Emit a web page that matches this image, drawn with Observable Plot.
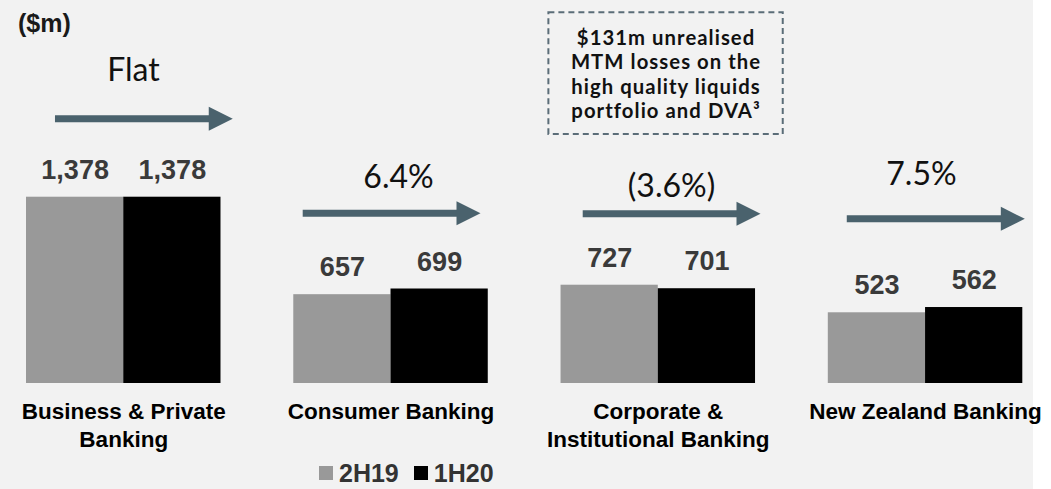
<!DOCTYPE html>
<html>
<head>
<meta charset="utf-8">
<script src="https://cdn.jsdelivr.net/npm/d3@7"></script>
<script src="https://cdn.jsdelivr.net/npm/@observablehq/plot@0.6"></script>
<style>
  html, body { margin: 0; padding: 0; }
  body { width: 1051px; height: 489px; overflow: hidden;
         background: linear-gradient(to right, #f2f2f2 1033px, #ffffff 1033px); }
  #chart svg { display: block; }
  .leg-swatch > svg { margin-right: 6px !important; }
  .leg-swatch { margin-right: 15px !important; }
  .leg-swatches-wrap { min-height: 30px !important; }
  g[aria-description="note"] text { letter-spacing: 1.05px; }
</style>
</head>
<body>
<div id="chart"></div>
<script>
// ---- data ----
const groups = ["Business & Private\nBanking", "Consumer Banking", "Corporate &\nInstitutional Banking", "New Zealand Banking"];
const series = ["2H19", "1H20"];
const values2H19 = [1378, 657, 727, 523];
const values1H20 = [1378, 699, 701, 562];
const changes = ["Flat", "6.4%", "(3.6%)", "7.5%"];
const unitLabel = "($m)";
const noteText = "$131m unrealised\nMTM losses on the\nhigh quality liquids\nportfolio and DVA³";

// ---- annotation layout (chart units: x in bar widths within a group, y in $m) ----
const arrowLayout = [
  {x1: 0.298, x2: 2.121, y: 1958, tx: 1.100, ty: 2317},
  {x1: 0.097, x2: 1.920, y: 1260, tx: 1.077, ty: 1524},
  {x1: 0.228, x2: 2.051, y: 1255, tx: 1.136, ty: 1452},
  {x1: 0.195, x2: 2.021, y: 1218, tx: 0.958, ty: 1546}
];
const noteLayout = {group: 2, x1: -0.125, x2: 2.285, y1: 1842, y2: 2742, tx: 1.080, ty: 2291};
const unitLayout = {group: 0, x: 0.184, y: 2660};

// ---- tables ----
const rows = groups.flatMap((g, i) => [
  {group: g, series: series[0], slot: 0, value: values2H19[i]},
  {group: g, series: series[1], slot: 1, value: values1H20[i]}
]);
const ann = groups.map((g, i) => ({group: g, label: changes[i], ...arrowLayout[i]}));
const note = [{group: groups[noteLayout.group], text: noteText}];
const unit = [{group: groups[unitLayout.group], text: unitLabel}];

const arrowColor = "#4a626d";
const fmt = d3.format(",");
const arrowHead = {
  draw(context, size) {
    const h = Math.sqrt(size);
    context.moveTo(0, 0);
    context.lineTo(-h, -h / 2);
    context.lineTo(-h, h / 2);
    context.closePath();
  }
};

const chart = Plot.plot({
  width: 1051,
  height: 458,
  marginLeft: 26,
  marginRight: 28.7,
  marginTop: 0,
  marginBottom: 75,
  style: {background: "transparent", fontFamily: "'Liberation Sans', Arial, sans-serif", color: "#000", overflow: "visible"},
  fx: {domain: groups, paddingInner: 0.2723, paddingOuter: 0, round: false, axis: null},
  x: {domain: [0, 2], axis: null},
  y: {domain: [0, 2833], axis: null},
  color: {domain: series, range: ["#999999", "#000000"]},
  marks: [
    Plot.rect(rows, {fx: "group", x1: "slot", x2: d => d.slot + 1, y1: 0, y2: "value", fill: "series"}),
    Plot.text(rows, {fx: "group", x: d => d.slot + 0.5, y: "value", text: d => fmt(d.value),
      dy: -27, fontSize: 27, fontWeight: "bold", fill: "#3a3a3a"}),
    Plot.axisFx({anchor: "bottom", tickSize: 0, tickPadding: 15, fontSize: 22.5, fontWeight: "bold",
      lineHeight: 1.27, fill: "#000", label: null}),
    Plot.ruleY(ann, {fx: "group", x1: "x1", x2: "x2", y: "y", stroke: arrowColor, strokeWidth: 7, insetRight: 12}),
    Plot.dot(ann, {fx: "group", x: "x2", y: "y", symbol: arrowHead, r: 13.54, fill: arrowColor, stroke: "none"}),
    Plot.text(ann, {fx: "group", x: "tx", y: "ty", text: "label", fontFamily: "Lato", fontSize: 32, fill: "#111"}),
    Plot.rect(note, {fx: "group", x1: noteLayout.x1, x2: noteLayout.x2, y1: noteLayout.y1, y2: noteLayout.y2,
      fill: "none", stroke: "#5b6d78", strokeWidth: 2, strokeDasharray: "6,4"}),
    Plot.text(note, {fx: "group", x: noteLayout.tx, y: noteLayout.ty, text: "text", fontFamily: "Lato",
      fontWeight: "bold", fontSize: 20.3, lineHeight: 1.205, fill: "#111", ariaDescription: "note"}),
    Plot.text(unit, {fx: "group", x: unitLayout.x, y: unitLayout.y, text: "text", fontSize: 25, fontWeight: "bold", fill: "#1a1a1a"})
  ]
});
document.getElementById("chart").appendChild(chart);

const legend = Plot.legend({
  color: {domain: series, range: ["#999999", "#000000"]},
  legend: "swatches",
  swatchSize: 14,
  className: "leg",
  marginLeft: 319,
  style: {fontSize: "25px", fontWeight: "bold", fontFamily: "'Liberation Sans', Arial, sans-serif", color: "#333", marginBottom: "0"}
});
document.getElementById("chart").appendChild(legend);
</script>
</body>
</html>
